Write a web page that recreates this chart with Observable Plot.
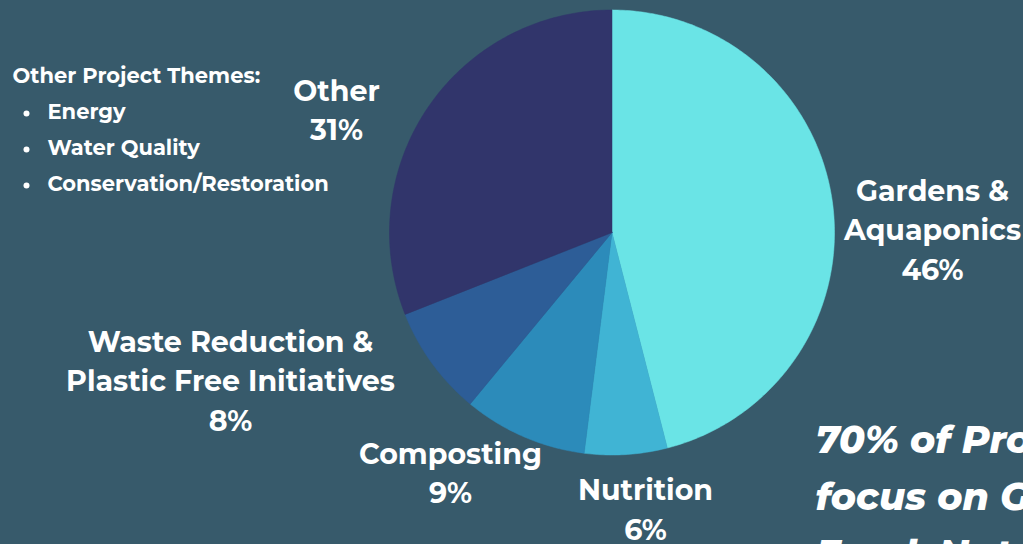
<!DOCTYPE html>
<html>
<head>
<meta charset="utf-8">
<script src="https://cdn.jsdelivr.net/npm/d3@7"></script>
<script src="https://cdn.jsdelivr.net/npm/@observablehq/plot@0.6"></script>
<style>
  html, body { margin: 0; padding: 0; background: #375a6b; overflow: hidden; }
  #chart svg { display: block; background: #375a6b; }
</style>
</head>
<body>
<div id="chart"></div>
<script>
// ---- data ----
const categories = ["Gardens & Aquaponics", "Nutrition", "Composting", "Waste Reduction & Plastic Free Initiatives", "Other"];
const labelLines = ["Gardens &\nAquaponics", "Nutrition", "Composting", "Waste Reduction &\nPlastic Free Initiatives", "Other"];
const shares = [46, 6, 9, 8, 31];
const colors = ["#6ae4e6", "#40b4d4", "#2c8bba", "#2d5d97", "#31356b"];
const themeTitle = "Other Project Themes:";
const otherThemes = ["Energy", "Water Quality", "Conservation/Restoration"];
const headline = "70% of Projects\nfocus on Gardens,\nFood, Nutrition & Composting";

// ---- layout ----
const W = 1023, H = 544;
const cx = 611.5, cy = 232, R = 222.5;
const font = "Montserrat, 'Open Sans', sans-serif";

// slice geometry from d3.pie (clockwise from 12 o'clock)
const arcs = d3.pie().sort(null).value(d => d)(shares);
const slicePts = [];
arcs.forEach((a, i) => {
  slicePts.push({cat: categories[i], x: cx, y: cy});
  const n = Math.max(4, Math.ceil((a.endAngle - a.startAngle) * 80));
  for (let k = 0; k <= n; k++) {
    const t = a.startAngle + (a.endAngle - a.startAngle) * k / n;
    slicePts.push({cat: categories[i], x: cx + R * Math.sin(t), y: cy - R * Math.cos(t)});
  }
  slicePts.push({cat: categories[i], x: cx, y: cy});
});

// label positions (layout: centre of each label block)
const labelPos = [
  {x: 932, y: 227},
  {x: 645, y: 507},
  {x: 450, y: 470.5},
  {x: 230, y: 378},
  {x: 336, y: 107.5}
];
const labels = categories.map((c, i) => ({
  cat: c,
  text: labelLines[i] + "\n" + shares[i] + "%",
  x: labelPos[i].x, y: labelPos[i].y
}));

const themeRows = otherThemes.map((t, i) => ({t, x: 47, y: 112 + 36 * i}));

const plot = Plot.plot({
  width: W, height: H,
  margin: 0,
  x: {domain: [0, W], range: [0, W], axis: null},
  y: {domain: [0, H], range: [0, H], axis: null},
  color: {domain: categories, range: colors},
  style: {background: "#375a6b", overflow: "hidden"},
  marks: [
    Plot.line(slicePts, {x: "x", y: "y", z: "cat", fill: "cat", stroke: "cat", strokeWidth: 0.5, curve: "linear"}),
    Plot.text(labels, {x: "x", y: "y", text: "text", fill: "white", fontSize: 28.5, fontWeight: 700,
      fontFamily: font, lineHeight: 1.386, lineAnchor: "middle", textAnchor: "middle"}),
    Plot.text([themeTitle], {x: 12, y: 76, text: d => d, fill: "white", fontSize: 21, fontWeight: 700,
      fontFamily: font, textAnchor: "start", lineAnchor: "middle"}),
    Plot.dot(themeRows, {x: 26, y: d => d.y + 1, r: 3, fill: "white"}),
    Plot.text(themeRows, {x: "x", y: "y", text: "t", fill: "white", fontSize: 21, fontWeight: 700,
      fontFamily: font, textAnchor: "start", lineAnchor: "middle"}),
    Plot.text([headline], {x: 815, y: 491, text: d => d, fill: "white", fontSize: 38, fontWeight: 800,
      fontStyle: "italic", fontFamily: font, textAnchor: "start", lineAnchor: "middle", lineHeight: 1.5})
  ]
});
document.getElementById("chart").append(plot);
</script>
</body>
</html>
